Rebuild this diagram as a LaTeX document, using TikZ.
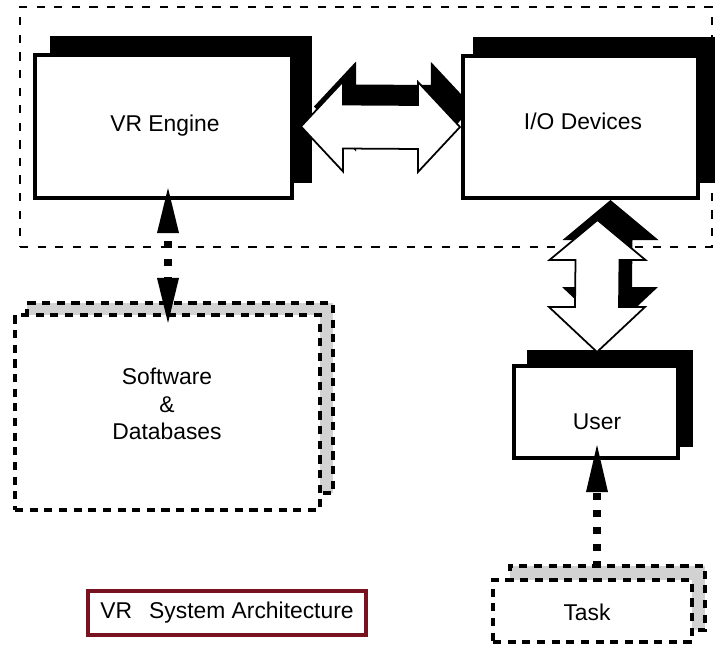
\documentclass[tikz,border=0pt]{standalone}
\usepackage{fontspec}
\setmainfont{Liberation Sans}
\usetikzlibrary{calc}
\definecolor{shadowgray}{RGB}{210,210,210}
\definecolor{titlered}{RGB}{120,18,32}
\pgfdeclarelayer{framelayer}
\pgfdeclarelayer{shadowlayer}
\pgfsetlayers{framelayer,shadowlayer,main}
% horizontal double arrow shape: #1 style, #2 dx, #3 dy
\newcommand{\hdblshape}[3]{%
  \path[#1] ($(hl)+(#2,#3)$) -- ($(hl)+(42+#2,-45+#3)$) -- ($(hl)+(42+#2,-22+#3)$)
    -- ($(hr)+(-42+#2,-22+#3)$) -- ($(hr)+(-42+#2,-45+#3)$) -- ($(hr)+(#2,#3)$)
    -- ($(hr)+(-42+#2,45+#3)$) -- ($(hr)+(-42+#2,22+#3)$)
    -- ($(hl)+(42+#2,22+#3)$) -- ($(hl)+(42+#2,45+#3)$) -- cycle;}
% vertical double arrow shape
\newcommand{\vdblshape}[3]{%
  \path[#1] ($(vt)+(#2,#3)$) -- ($(vt)+(48+#2,40+#3)$) -- ($(vt)+(22+#2,40+#3)$)
    -- ($(vb)+(22+#2,-45+#3)$) -- ($(vb)+(48+#2,-45+#3)$) -- ($(vb)+(#2,#3)$)
    -- ($(vb)+(-48+#2,-45+#3)$) -- ($(vb)+(-22+#2,-45+#3)$)
    -- ($(vt)+(-22+#2,40+#3)$) -- ($(vt)+(-48+#2,40+#3)$) -- cycle;}
\begin{document}
\begin{tikzpicture}[x=0.03cm,y=-0.03cm,
  font=\fontsize{19.5}{23.6}\selectfont,
  box/.style={rectangle, draw=black, fill=white, line width=2.6pt, inner sep=0pt, outer sep=0pt},
  dbox/.style={rectangle, draw=black, fill=white, line width=3pt, dash pattern=on 7pt off 5.5pt, inner sep=0pt, outer sep=0pt},
  outerframe/.style={rectangle, draw=black, line width=1.5pt, dash pattern=on 7pt off 8pt, inner sep=0pt, outer sep=0pt},
  boxshadow/.style={fill=black},
  dshadow/.style={fill=shadowgray, draw=black, line width=3pt, dash pattern=on 7pt off 5.5pt},
  shadowarrow/.style={fill=black},
  whitearrow/.style={fill=white, draw=black, line width=1.5pt, line join=miter},
  thickdash/.style={draw=black, line width=6pt, line cap=butt},
  headfill/.style={fill=black},
  txt/.style={inner sep=0pt, outer sep=0pt},
  titlebox/.style={rectangle, draw=titlered, line width=3.3pt, fill=white, inner sep=0pt, outer sep=0pt}
]
\path[use as bounding box] (0,0) rectangle (718,645);

\begin{pgfonlayer}{framelayer}
  \node[outerframe, minimum width=20.76cm, minimum height=7.2cm] (frame) at (366,127) {};
\end{pgfonlayer}

% boxes
\node[box, minimum width=7.71cm, minimum height=4.29cm] (vr) at (163.5,126.5) {};
\node[box, minimum width=7.05cm, minimum height=4.26cm] (io) at (580.5,127) {};
\node[box, minimum width=4.92cm, minimum height=2.76cm] (user) at (596,412) {};
\node[dbox, minimum width=9.15cm, minimum height=5.85cm] (sw) at (167.5,412.5) {};
\node[dbox, minimum width=5.97cm, minimum height=1.86cm] (task) at (592.5,611) {};
\node[titlebox, minimum width=8.34cm, minimum height=1.32cm] (title) at (227,613) {VR\hspace{0.75em}System Architecture};

% arrow end points
\coordinate (hl) at ($(vr.east)+(9,0)$);
\coordinate (hr) at ($(io.west)+(-3,0)$);
\coordinate (vt) at ($(io.south)+(17,22)$);
\coordinate (vb) at ($(user.north)+(1,-14)$);

\begin{pgfonlayer}{shadowlayer}
  \fill[boxshadow] ($(vr.south west)+(15,-15)$) rectangle ($(vr.north east)+(20,-19)$);
  \fill[boxshadow] ($(io.south west)+(10,-15)$) rectangle ($(io.north east)+(17,-19)$);
  \fill[boxshadow] ($(user.south west)+(13,-11)$) rectangle ($(user.north east)+(15,-16)$);
  \path[dshadow] ($(sw.south west)+(12,-17)$) rectangle ($(sw.north east)+(13,-12)$);
  \path[dshadow] ($(task.south west)+(17,-12)$) rectangle ($(task.north east)+(13,-14)$);
  \hdblshape{shadowarrow}{13}{-20}
  \vdblshape{shadowarrow}{13}{-20}
\end{pgfonlayer}

% white double arrows
\hdblshape{whitearrow}{0}{0}
\vdblshape{whitearrow}{0}{0}

% dashed connector VR Engine <-> Software & Databases
\coordinate (a1) at ($(vr.south)+(4.5,-10)$);
\coordinate (a2) at ($(sw.north)+(0.5,8)$);
\fill[headfill] (a1) -- ($(a1)+(-11,45)$) -- ($(a1)+(11,45)$) -- cycle;
\fill[headfill] (a2) -- ($(a2)+(-11,-45)$) -- ($(a2)+(11,-45)$) -- cycle;
\path[thickdash, dash pattern=on 6pt off 9.4pt, dash phase=8.5pt] ($(a1)+(0,45)$) -- ($(a2)+(0,-45)$);

% dashed connector Task -> User
\coordinate (b1) at ($(user.south)+(1,-13)$);
\coordinate (b2) at ($(task.north)+(4.5,-14)$);
\fill[headfill] (b1) -- ($(b1)+(-11,47)$) -- ($(b1)+(11,47)$) -- cycle;
\path[thickdash, dash pattern=on 6pt off 8.5pt, dash phase=13.6pt] ($(b1)+(0,47)$) -- (b2);

% texts
\node[txt] (vrtext) at (165,126) {VR Engine};
\node[txt] (iotext) at (583,121) {I/O Devices};
\node[txt] (usertext) at (597,422) {User};
\node[txt, align=center] (swtext) at (167,404) {Software\\\&\\Databases};
\node[txt] (tasktext) at (587,612) {Task};
\end{tikzpicture}
\end{document}
